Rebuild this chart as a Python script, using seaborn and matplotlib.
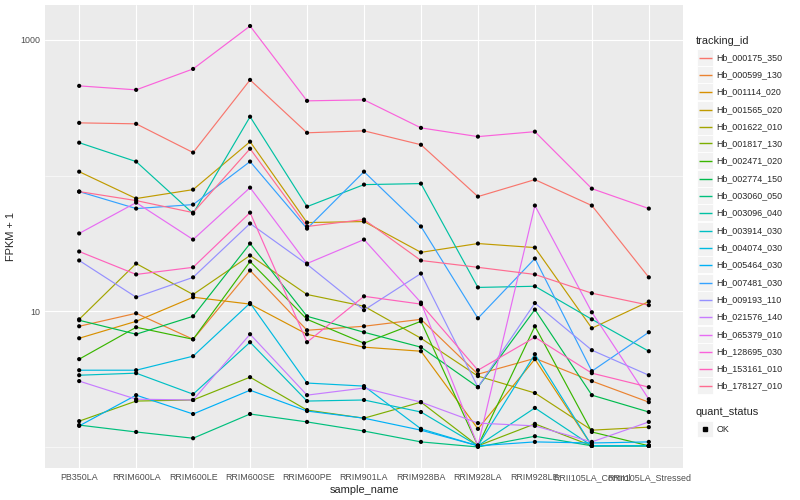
import numpy as np
import pandas as pd
import matplotlib
matplotlib.use("Agg")
import matplotlib.pyplot as plt
from matplotlib.lines import Line2D
from matplotlib.patches import Rectangle
from matplotlib.ticker import FixedLocator, NullFormatter, FixedFormatter
import seaborn as sns

samples = ["PB350LA", "RRIM600LA", "RRIM600LE", "RRIM600SE", "RRIM600PE", "RRIM901LA",
           "RRIM928BA", "RRIM928LA", "RRIM928LE", "RRII105LA_Control", "RRII105LA_Stressed"]

tracking_ids = ["Hb_000175_350", "Hb_000599_130", "Hb_001114_020", "Hb_001565_020",
                "Hb_001622_010", "Hb_001817_130", "Hb_002471_020", "Hb_002774_150",
                "Hb_003060_050", "Hb_003096_040", "Hb_003914_030", "Hb_004074_030",
                "Hb_005464_030", "Hb_007481_030", "Hb_009193_110", "Hb_021576_140",
                "Hb_065379_010", "Hb_128695_030", "Hb_153161_010", "Hb_178127_010"]

# FPKM + 1, one list per gene, in sample order
hb_000175_350 = [245, 241, 148, 508, 207, 214, 169, 70.1, 93.5, 60.2, 17.8]
hb_000599_130 = [7.76, 9.67, 6.22, 20.0, 7.25, 7.76, 8.73, 3.44, 4.5, 3.06, 2.14]
hb_001114_020 = [6.33, 8.44, 12.7, 11.3, 6.78, 5.44, 5.08, 1.36, 4.44, 1.02, 1.02]
hb_001565_020 = [107, 67.8, 78.9, 178, 45.1, 45.9, 27.2, 31.6, 29.5, 7.5, 11.8]
hb_001622_010 = [8.73, 22.5, 13.3, 25.8, 13.3, 10.9, 6.33, 3.33, 2.5, 1.33, 1.4]
hb_001817_130 = [1.55, 2.18, 2.22, 3.27, 1.87, 1.63, 2.14, 1.02, 1.48, 1.02, 1.02]
hb_002471_020 = [4.44, 7.63, 6.22, 23.3, 8.73, 5.82, 8.44, 1.02, 7.76, 1.29, 1.02]
hb_002774_150 = [8.59, 6.78, 9.19, 31.6, 9.19, 7.01, 5.44, 2.76, 10.3, 2.41, 1.81]
hb_003060_050 = [1.45, 1.29, 1.16, 1.75, 1.53, 1.31, 1.09, 1.0, 1.2, 1.02, 1.02]
hb_003096_040 = [175, 127, 52.6, 272, 59.1, 85.9, 87.4, 15.0, 15.3, 8.73, 5.08]
hb_003914_030 = [3.38, 3.5, 2.45, 5.92, 2.18, 2.22, 1.81, 1.02, 1.94, 1.02, 1.02]
hb_004074_030 = [3.68, 3.68, 4.67, 11.5, 2.96, 2.81, 1.36, 1.02, 4.83, 1.02, 1.02]
hb_005464_030 = [1.43, 2.41, 1.75, 2.62, 1.84, 1.63, 1.33, 1.02, 1.09, 1.07, 1.09]
hb_007481_030 = [76.3, 57.2, 61.2, 127, 40.7, 107, 42.2, 8.89, 24.5, 3.62, 7.01]
hb_009193_110 = [23.7, 12.7, 17.8, 44.4, 22.2, 10.2, 19.0, 2.76, 11.5, 5.17, 3.38]
hb_021576_140 = [3.06, 2.25, 2.22, 6.78, 2.41, 2.72, 2.14, 1.5, 1.43, 1.09, 1.53]
hb_065379_010 = [37.5, 63.3, 33.8, 81.6, 22.5, 33.8, 11.6, 1.02, 60.2, 9.84, 2.25]
hb_128695_030 = [459, 429, 612, 1268, 356, 362, 225, 194, 211, 80.2, 57.2]
hb_153161_010 = [27.6, 18.7, 21.1, 53.4, 5.92, 12.9, 11.3, 3.68, 6.44, 3.5, 2.76]
hb_178127_010 = [76.3, 65.5, 53.4, 158, 42.2, 47.5, 23.7, 21.1, 18.7, 13.6, 11.1]

values = [hb_000175_350, hb_000599_130, hb_001114_020, hb_001565_020, hb_001622_010,
          hb_001817_130, hb_002471_020, hb_002774_150, hb_003060_050, hb_003096_040,
          hb_003914_030, hb_004074_030, hb_005464_030, hb_007481_030, hb_009193_110,
          hb_021576_140, hb_065379_010, hb_128695_030, hb_153161_010, hb_178127_010]

# ggplot2 default hue palette for 20 levels
palette = ["#F8766D", "#EA8331", "#D89000", "#C09B00", "#A3A500", "#7CAE00", "#39B600",
           "#00BB4E", "#00BF7D", "#00C1A3", "#00BFC4", "#00BAE0", "#00B0F6", "#35A2FF",
           "#9590FF", "#C77CFF", "#E76BF3", "#FA62DB", "#FF62BC", "#FF6C91"]

rows = []
for tid, vals in zip(tracking_ids, values):
    for s, v in zip(samples, vals):
        rows.append({"tracking_id": tid, "sample_name": s, "fpkm1": v, "quant_status": "OK"})
df = pd.DataFrame(rows)
df["pos"] = pd.Categorical(df["sample_name"], categories=samples).codes

sns.set_theme(style="darkgrid")
plt.rcParams["font.family"] = ["Liberation Sans", "DejaVu Sans"]
plt.rcParams["axes.facecolor"] = "#EBEBEB"

W, H = 800, 500
fig = plt.figure(figsize=(8, 5), dpi=100)
ax = fig.add_axes([45 / W, 1 - 468 / H, (683 - 45) / W, (468 - 5) / H])

sns.lineplot(data=df, x="pos", y="fpkm1", hue="tracking_id", hue_order=tracking_ids,
             palette=palette, linewidth=0.85, ax=ax, legend=False, sort=False, estimator=None)
sns.scatterplot(data=df, x="pos", y="fpkm1", color="black", s=9, marker="o",
                edgecolor="none", ax=ax, legend=False, zorder=5)

ax.set_yscale("log")
ax.set_ylim(10 ** -0.155, 10 ** 3.258)
ax.set_xlim(-0.6, len(samples) - 0.4)
ax.yaxis.set_major_locator(FixedLocator([10, 1000]))
ax.yaxis.set_major_formatter(FixedFormatter(["10", "1000"]))
ax.yaxis.set_minor_locator(FixedLocator([1, 100]))
ax.yaxis.set_minor_formatter(NullFormatter())
ax.set_xticks(range(len(samples)))
ax.set_xticklabels(samples)

ax.grid(which="major", color="white", linewidth=0.8)
ax.grid(which="minor", color="white", linewidth=0.4)
for sp in ax.spines.values():
    sp.set_visible(False)
ax.tick_params(axis="both", which="major", length=2, width=0.6, color="#333333",
               labelsize=6.4, labelcolor="#4D4D4D", pad=1.5)
ax.tick_params(axis="y", which="minor", length=0)
ax.set_xlabel("sample_name", fontsize=7.9, labelpad=2)
ax.set_ylabel("FPKM + 1", fontsize=7.9, labelpad=3)


def fx(x):
    return x / W


def fy(y):
    return 1 - y / H


# legend: tracking_id
fig.text(fx(696), fy(41), "tracking_id", fontsize=7.9, ha="left", va="center")
step = 17.3
for i, (tid, col) in enumerate(zip(tracking_ids, palette)):
    yc = round(56.7 + i * step) + 0.5
    fig.add_artist(Rectangle((fx(696.5), fy(yc + 8.4)), 16.8 / W, 16.8 / H,
                             transform=fig.transFigure, facecolor="#F2F2F2", edgecolor="white",
                             linewidth=0.6, zorder=1))
    fig.add_artist(Line2D([fx(698.5), fx(711.5)], [fy(yc), fy(yc)], color=col, linewidth=1.0,
                          solid_capstyle="butt", transform=fig.transFigure, zorder=3))
    fig.text(fx(716.5), fy(yc), tid, fontsize=6.4, ha="left", va="center")

# legend: quant_status
fig.text(fx(696), fy(412), "quant_status", fontsize=7.9, ha="left", va="center")
fig.add_artist(Rectangle((fx(696.5), fy(429 + 8.4)), 16.8 / W, 16.8 / H,
                         transform=fig.transFigure, facecolor="#F2F2F2", edgecolor="white",
                         linewidth=0.6, zorder=1))
fig.add_artist(Line2D([fx(705)], [fy(429)], marker="s", markersize=2.6, color="black",
                      linestyle="none", transform=fig.transFigure, zorder=3))
fig.text(fx(716.5), fy(429), "OK", fontsize=6.4, ha="left", va="center")

fig.savefig("out.png", dpi=100, facecolor="white")
